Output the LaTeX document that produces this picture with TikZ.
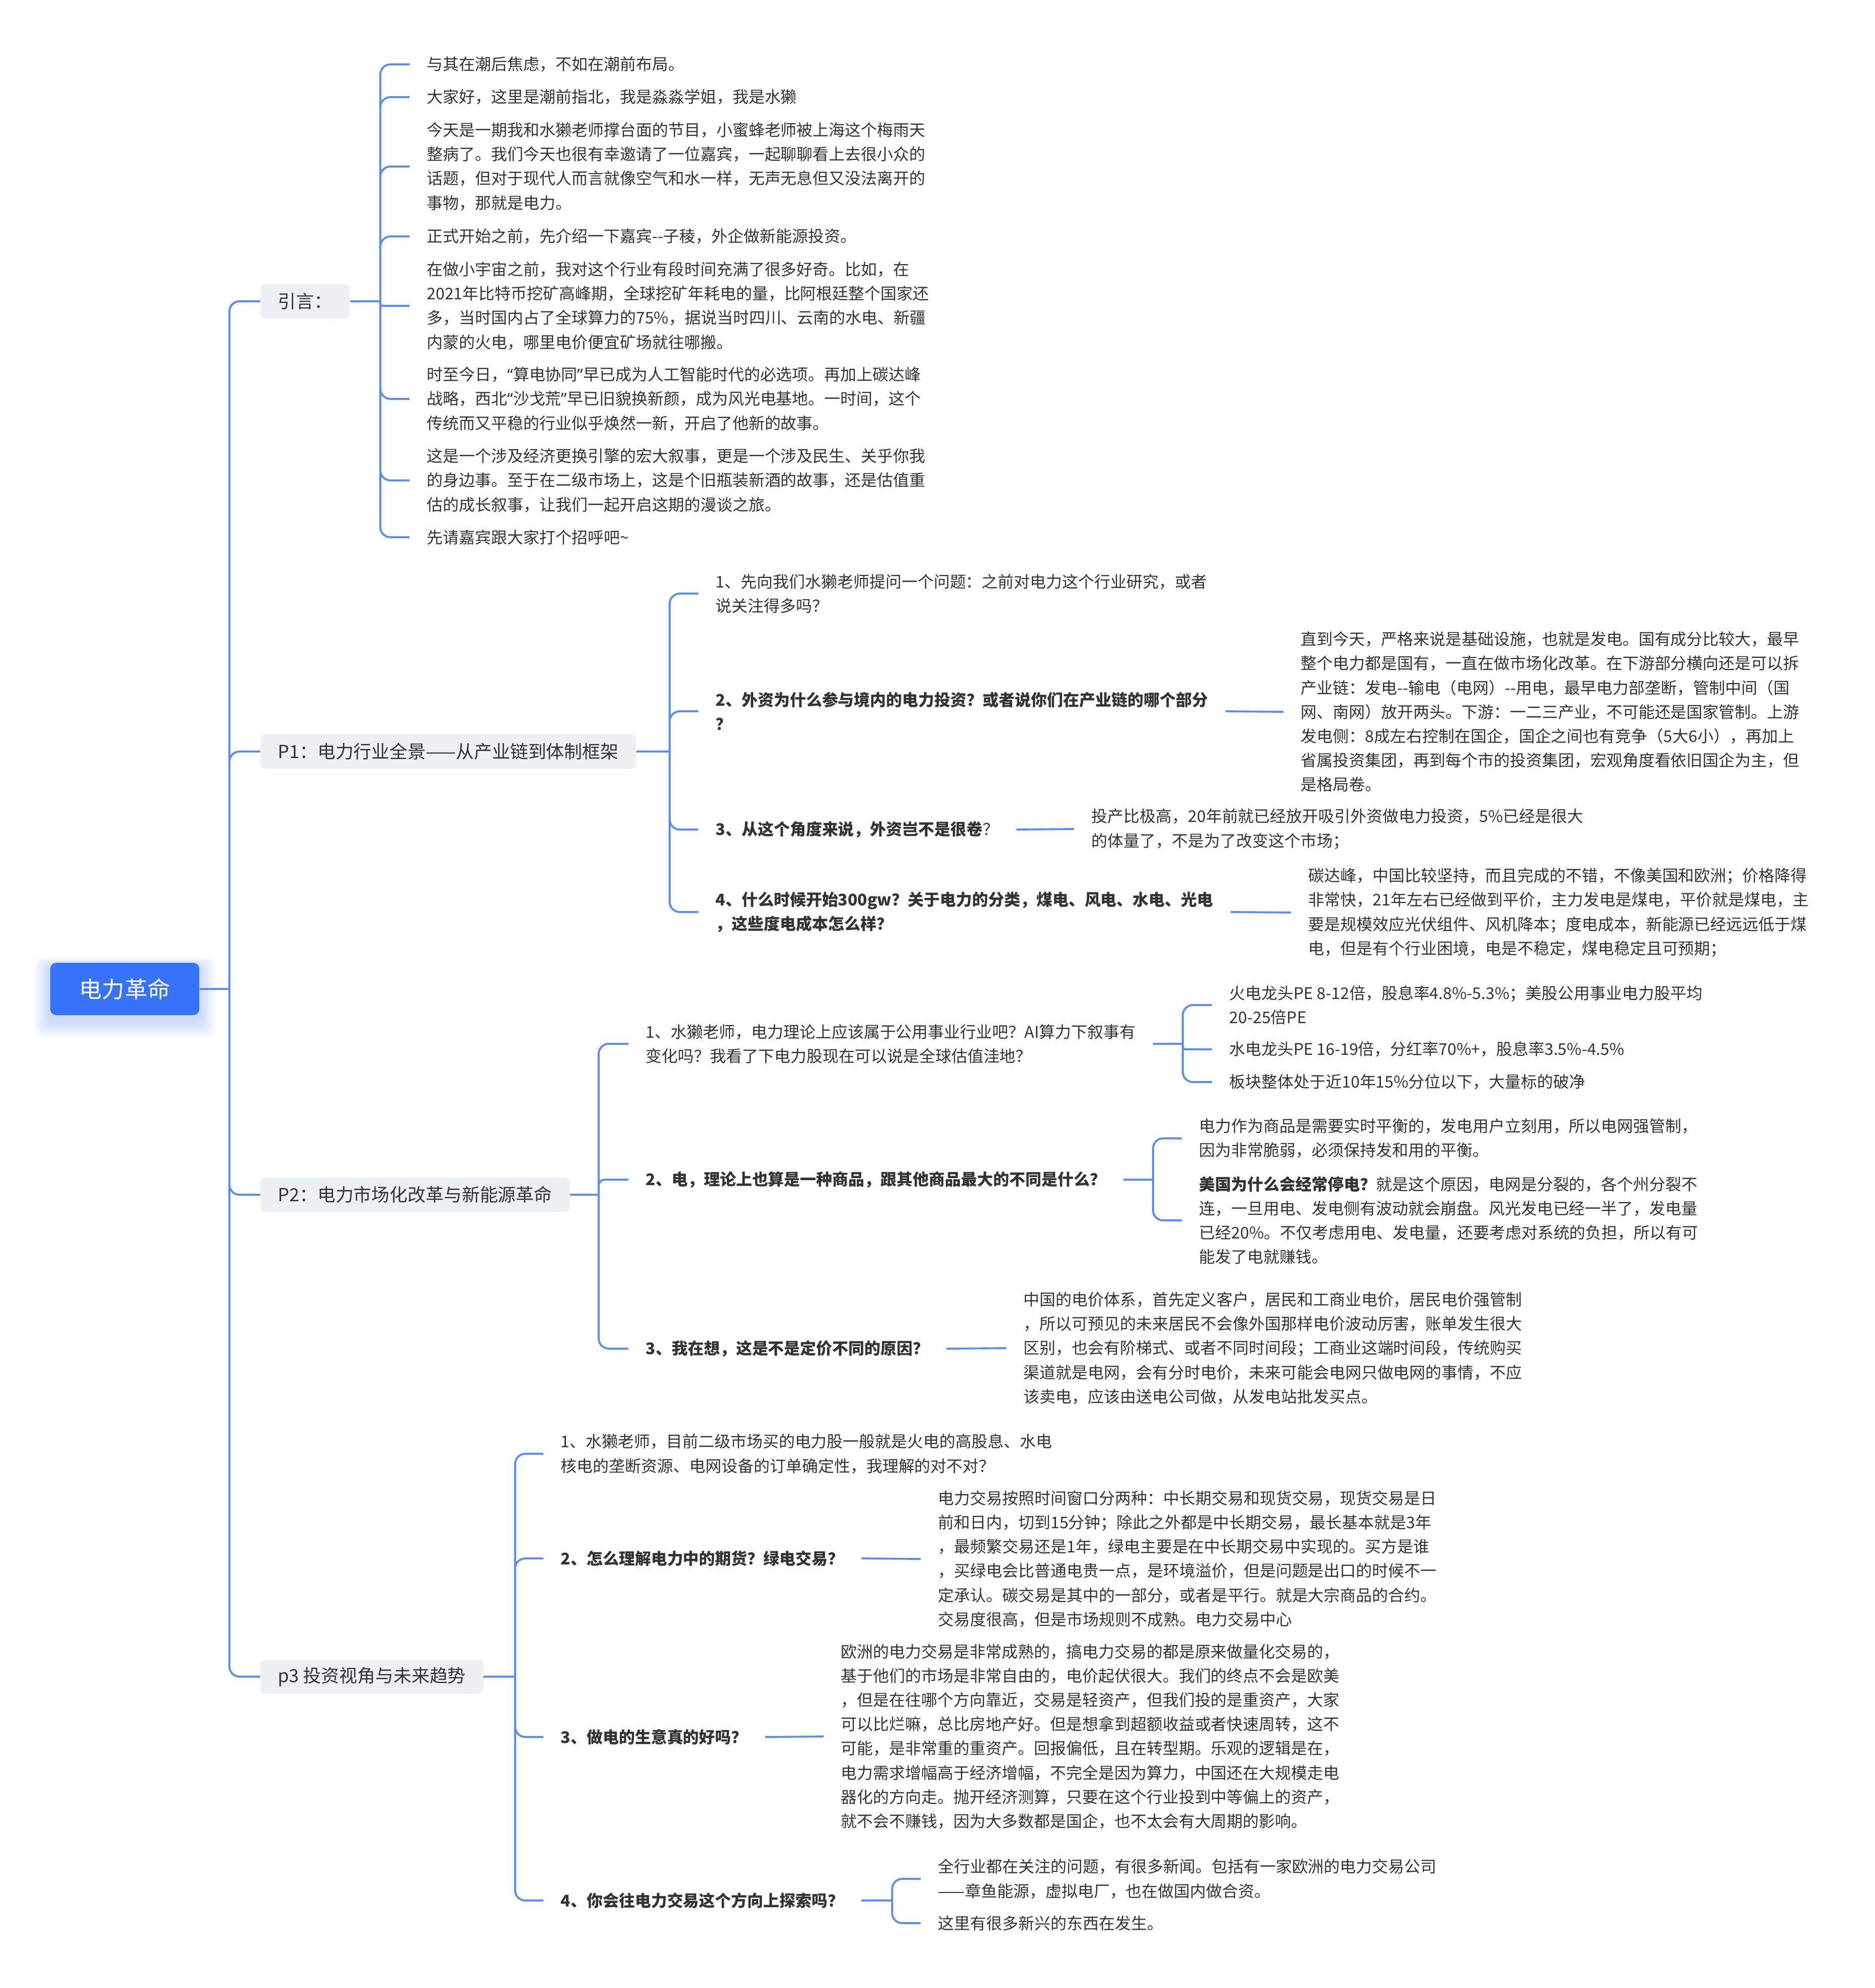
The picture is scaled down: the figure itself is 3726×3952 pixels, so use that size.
\documentclass[tikz,border=0pt]{standalone}
\usepackage{fontspec}
\setmainfont{Noto Sans CJK SC}
\newfontfamily\latq{Noto Sans}
\usetikzlibrary{calc}
\definecolor{lineblue}{HTML}{5A8BF7}
\definecolor{rootblue}{HTML}{3672FA}
\definecolor{boxgray}{HTML}{EEEFF2}
\definecolor{txt}{HTML}{333333}
\newcommand\mmfs{\fontsize{9.09pt}{13.7pt}\selectfont}
\newcommand\mmfl{\fontsize{10.2pt}{12pt}\selectfont}
\newcommand\mmfr{\fontsize{12.8pt}{14pt}\selectfont}
\newcommand\mmlq{{\latq “}}
\newcommand\mmrq{{\latq ”}}
\begin{document}
\begin{tikzpicture}[x=0.01cm,y=-0.01cm,
  conn/.style={draw=lineblue,line width=1.1pt,rounded corners=0.2cm},
  connsm/.style={draw=lineblue,line width=1.1pt,rounded corners=0.05cm},
  leaf/.style={anchor=west,align=left,inner xsep=0.34cm,inner ysep=0pt,text=txt,font=\mmfs},
  qb/.style={leaf,font=\mmfs\bfseries},
  lvl/.style={anchor=west,fill=boxgray,rounded corners=0.1cm,text=txt,font=\mmfl,inner xsep=0.35cm,minimum height=0.68cm},
  rootn/.style={fill=rootblue,text=white,rounded corners=0.12cm,font=\mmfr,minimum width=2.96cm,minimum height=1.04cm}]
\fill[white] (0,0) rectangle (3726,3952);
\useasboundingbox (0,0) rectangle (3726,3952);
% soft shadow of the root
\foreach \k in {1,...,8}{\fill[rootblue,opacity=0.03,rounded corners=0.15cm] ({100-4*\k},{1920-2*\k}) rectangle ({396+4*\k},{2030+4*\k});}
\node[rootn] (root) at (248,1966) {电力革命};
% level 1
\node[lvl] (intro) at (517,599) {引言：};
\node[lvl] (p1) at (517,1494) {P1：电力行业全景——从产业链到体制框架};
\node[lvl] (p2) at (517,2375) {P2：电力市场化改革与新能源革命};
\node[lvl] (p3) at (517,3333) {p3 投资视角与未来趋势};
% intro children
\node[leaf] (i1) at (814,128) {与其在潮后焦虑，不如在潮前布局。};
\node[leaf] (i2) at (814,193) {大家好，这里是潮前指北，我是淼淼学姐，我是水獭};
\node[leaf] (i3) at (814,331) {今天是一期我和水獭老师撑台面的节目，小蜜蜂老师被上海这个梅雨天\\整病了。我们今天也很有幸邀请了一位嘉宾，一起聊聊看上去很小众的\\话题，但对于现代人而言就像空气和水一样，无声无息但又没法离开的\\事物，那就是电力。};
\node[leaf] (i4) at (814,470) {正式开始之前，先介绍一下嘉宾-\kern0pt-子稜，外企做新能源投资。};
\node[leaf] (i5) at (814,608) {在做小宇宙之前，我对这个行业有段时间充满了很多好奇。比如，在\\2021年比特币挖矿高峰期，全球挖矿年耗电的量，比阿根廷整个国家还\\多，当时国内占了全球算力的75\%，据说当时四川、云南的水电、新疆\\内蒙的火电，哪里电价便宜矿场就往哪搬。};
\node[leaf] (i6) at (814,793) {时至今日，\mmlq 算电协同\mmrq 早已成为人工智能时代的必选项。再加上碳达峰\\战略，西北\mmlq 沙戈荒\mmrq 早已旧貌换新颜，成为风光电基地。一时间，这个\\传统而又平稳的行业似乎焕然一新，开启了他新的故事。};
\node[leaf] (i7) at (814,955) {这是一个涉及经济更换引擎的宏大叙事，更是一个涉及民生、关乎你我\\的身边事。至于在二级市场上，这是个旧瓶装新酒的故事，还是估值重\\估的成长叙事，让我们一起开启这期的漫谈之旅。};
\node[leaf] (i8) at (814,1068) {先请嘉宾跟大家打个招呼吧\textasciitilde};
% P1 children
\node[leaf] (a1) at (1388,1180) {1、先向我们水獭老师提问一个问题：之前对电力这个行业研究，或者\\说关注得多吗？};
\node[qb] (a2) at (1388,1414) {2、外资为什么参与境内的电力投资？或者说你们在产业链的哪个部分\\？};
\node[leaf] (a2x) at (2551,1415) {直到今天，严格来说是基础设施，也就是发电。国有成分比较大，最早\\整个电力都是国有，一直在做市场化改革。在下游部分横向还是可以拆\\产业链：发电-\kern0pt-输电（电网）-\kern0pt-用电，最早电力部垄断，管制中间（国\\网、南网）放开两头。下游：一二三产业，不可能还是国家管制。上游\\发电侧：8成左右控制在国企，国企之间也有竞争（5大6小），再加上\\省属投资集团，再到每个市的投资集团，宏观角度看依旧国企为主，但\\是格局卷。};
\node[leaf] (a3) at (1388,1649) {\textbf{3、从这个角度来说，外资岂不是很卷}？};
\node[leaf] (a3x) at (2135,1648) {投产比极高，20年前就已经放开吸引外资做电力投资，5\%已经是很大\\的体量了，不是为了改变这个市场；};
\node[qb] (a4) at (1388,1813) {4、什么时候开始300gw？关于电力的分类，煤电、风电、水电、光电\\，这些度电成本怎么样？};
\node[leaf] (a4x) at (2566,1814) {碳达峰，中国比较坚持，而且完成的不错，不像美国和欧洲；价格降得\\非常快，21年左右已经做到平价，主力发电是煤电，平价就是煤电，主\\要是规模效应光伏组件、风机降本；度电成本，新能源已经远远低于煤\\电，但是有个行业困境，电是不稳定，煤电稳定且可预期；};
% P2 children
\node[leaf] (b1) at (1249,2075) {1、水獭老师，电力理论上应该属于公用事业行业吧？AI算力下叙事有\\变化吗？我看了下电力股现在可以说是全球估值洼地？};
\node[leaf] (b1a) at (2409,1998) {火电龙头PE 8-12倍，股息率4.8\%-5.3\%；美股公用事业电力股平均\\20-25倍PE};
\node[leaf] (b1b) at (2409,2086) {水电龙头PE 16-19倍，分红率70\%+，股息率3.5\%-4.5\%};
\node[leaf] (b1c) at (2409,2151) {板块整体处于近10年15\%分位以下，大量标的破净};
\node[qb] (b2) at (1249,2345) {2、电，理论上也算是一种商品，跟其他商品最大的不同是什么？};
\node[leaf] (b2a) at (2349,2263) {电力作为商品是需要实时平衡的，发电用户立刻用，所以电网强管制，\\因为非常脆弱，必须保持发和用的平衡。};
\node[leaf] (b2b) at (2349,2426) {\textbf{美国为什么会经常停电？}就是这个原因，电网是分裂的，各个州分裂不\\连，一旦用电、发电侧有波动就会崩盘。风光发电已经一半了，发电量\\已经20\%。不仅考虑用电、发电量，还要考虑对系统的负担，所以有可\\能发了电就赚钱。};
\node[qb] (b3) at (1249,2681) {3、我在想，这是不是定价不同的原因？};
\node[leaf] (b3x) at (2000,2680) {中国的电价体系，首先定义客户，居民和工商业电价，居民电价强管制\\，所以可预见的未来居民不会像外国那样电价波动厉害，账单发生很大\\区别，也会有阶梯式、或者不同时间段；工商业这端时间段，传统购买\\渠道就是电网，会有分时电价，未来可能会电网只做电网的事情，不应\\该卖电，应该由送电公司做，从发电站批发买点。};
% p3 children
\node[leaf] (c1) at (1080,2890) {1、水獭老师，目前二级市场买的电力股一般就是火电的高股息、水电\\核电的垄断资源、电网设备的订单确定性，我理解的对不对？};
\node[qb] (c2) at (1080,3098) {2、怎么理解电力中的期货？绿电交易？};
\node[leaf] (c2x) at (1830,3099) {电力交易按照时间窗口分两种：中长期交易和现货交易，现货交易是日\\前和日内，切到15分钟；除此之外都是中长期交易，最长基本就是3年\\，最频繁交易还是1年，绿电主要是在中长期交易中实现的。买方是谁\\，买绿电会比普通电贵一点，是环境溢价，但是问题是出口的时候不一\\定承认。碳交易是其中的一部分，或者是平行。就是大宗商品的合约。\\交易度很高，但是市场规则不成熟。电力交易中心};
\node[qb] (c3) at (1080,3453) {3、做电的生意真的好吗？};
\node[leaf] (c3x) at (1637,3452) {欧洲的电力交易是非常成熟的，搞电力交易的都是原来做量化交易的，\\基于他们的市场是非常自由的，电价起伏很大。我们的终点不会是欧美\\，但是在往哪个方向靠近，交易是轻资产，但我们投的是重资产，大家\\可以比烂嘛，总比房地产好。但是想拿到超额收益或者快速周转，这不\\可能，是非常重的重资产。回报偏低，且在转型期。乐观的逻辑是在，\\电力需求增幅高于经济增幅，不完全是因为算力，中国还在大规模走电\\器化的方向走。抛开经济测算，只要在这个行业投到中等偏上的资产，\\就不会不赚钱，因为大多数都是国企，也不太会有大周期的影响。};
\node[qb] (c4) at (1080,3778) {4、你会往电力交易这个方向上探索吗？};
\node[leaf] (c4a) at (1830,3735) {全行业都在关注的问题，有很多新闻。包括有一家欧洲的电力交易公司\\——章鱼能源，虚拟电厂，也在做国内做合资。};
\node[leaf] (c4b) at (1830,3823) {这里有很多新兴的东西在发生。};
% junctions
\coordinate (T) at (456,1966);
\coordinate (JI) at (756,599);
\coordinate (J1) at (1331,1494);
\coordinate (J2) at (1190,2375);
\coordinate (J3) at (1024,3333);
\coordinate (JB1) at ($(b1.east)+(59,0)$);
\coordinate (JB2) at ($(b2.east)+(59,0)$);
\coordinate (JC4) at ($(c4.east)+(61,0)$);
% trunk
\draw[conn] (root.east) -- (T);
\foreach \n in {intro,p1,p2,p3}{\draw[conn] (T) |- (\n.west);}
% intro
\draw[conn] (intro.east) -- (JI);
\foreach \n in {i1,i2,i3,i4,i6,i7,i8}{\draw[conn] (JI) |- (\n.west);}
\draw[connsm] (JI) |- (i5.west);
% P1
\draw[conn] (p1.east) -- (J1);
\foreach \n in {a1,a2,a3,a4}{\draw[conn] (J1) |- (\n.west);}
\draw[conn] (a2.east) -- (a2x.west);
\draw[conn] (a3.east) -- (a3x.west);
\draw[conn] (a4.east) -- (a4x.west);
% P2
\draw[conn] (p2.east) -- (J2);
\foreach \n in {b1,b3}{\draw[conn] (J2) |- (\n.west);}
\draw[conn,rounded corners=0.12cm] (J2) |- (b2.west);
\draw[conn] (b1.east) -- (JB1);
\draw[conn] (JB1) |- (b1a.west);
\draw[connsm] (JB1) |- (b1b.west);
\draw[conn] (JB1) |- (b1c.west);
\draw[conn] (b2.east) -- (JB2);
\draw[conn] (JB2) |- (b2a.west);
\draw[conn] (JB2) |- (b2b.west);
\draw[conn] (b3.east) -- (b3x.west);
% p3
\draw[conn] (p3.east) -- (J3);
\foreach \n in {c1,c2,c3,c4}{\draw[conn] (J3) |- (\n.west);}
\draw[conn] (c2.east) -- (c2x.west);
\draw[conn] (c3.east) -- (c3x.west);
\draw[conn] (c4.east) -- (JC4);
\draw[conn] (JC4) |- (c4a.west);
\draw[conn] (JC4) |- (c4b.west);
\end{tikzpicture}
\end{document}
